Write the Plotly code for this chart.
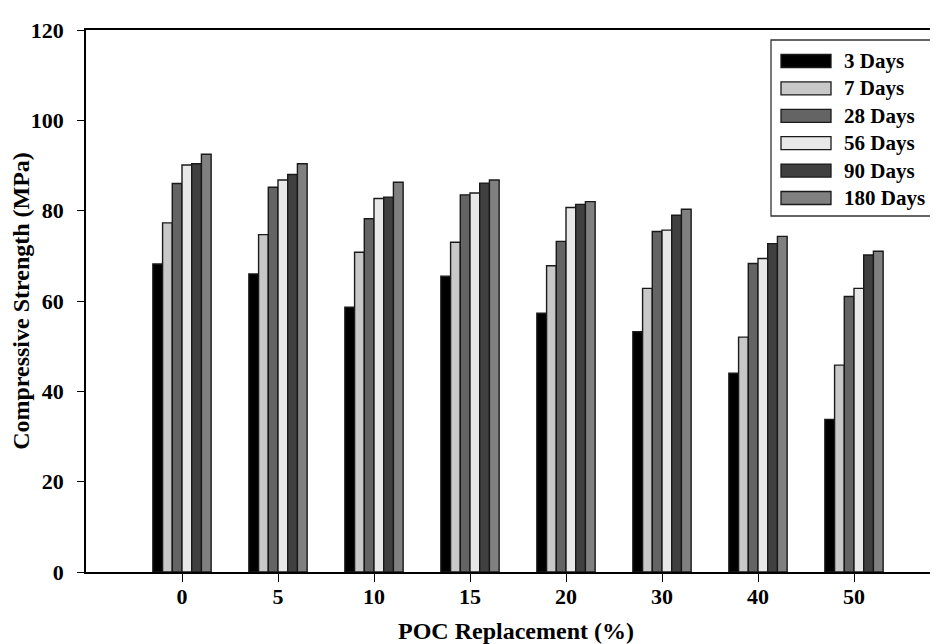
import plotly.graph_objects as go

categories = ["0", "5", "10", "15", "20", "30", "40", "50"]
series_names = ["3 Days", "7 Days", "28 Days", "56 Days", "90 Days", "180 Days"]
d3 = [68.2, 66.0, 58.6, 65.5, 57.3, 53.2, 44.0, 33.8]
d7 = [77.3, 74.7, 70.8, 73.0, 67.8, 62.8, 52.0, 45.8]
d28 = [86.0, 85.2, 78.2, 83.5, 73.2, 75.4, 68.3, 61.0]
d56 = [90.1, 86.8, 82.7, 83.9, 80.7, 75.7, 69.4, 62.8]
d90 = [90.4, 88.0, 83.0, 86.1, 81.4, 79.0, 72.7, 70.2]
d180 = [92.5, 90.4, 86.3, 86.8, 82.0, 80.3, 74.3, 71.0]
y_ticks = [0, 20, 40, 60, 80, 100, 120]

series_values = [d3, d7, d28, d56, d90, d180]
colors = ["#000000", "#c8c8c8", "#646464", "#e8e8e8", "#404040", "#808080"]

FONT = "Liberation Serif"
W, H = 938, 644
ML, MT, MB = 78, 22, 80
PW = W - ML
PH = H - MT - MB

fig = go.Figure()
for name, vals, col in zip(series_names, series_values, colors):
    fig.add_trace(go.Bar(
        x=categories, y=vals, name=name,
        marker=dict(color=col, line=dict(color="#1a1a1a", width=1.4)),
        showlegend=False,
    ))

# custom legend (paper coordinates from pixel layout)
def px_x(p):
    return (p - ML) / PW

def px_y(p):
    return (H - MB - p) / PH

shapes = [dict(type="rect", xref="paper", yref="paper",
               x0=px_x(763), x1=px_x(934), y0=px_y(208), y1=px_y(32),
               line=dict(color="#333333", width=1.3), fillcolor="white", layer="above")]
annotations = []
for i, (name, col) in enumerate(zip(series_names, colors)):
    cy = 53 + 27.4 * i
    shapes.append(dict(type="rect", xref="paper", yref="paper",
                       x0=px_x(773), x1=px_x(823), y0=px_y(cy + 6.5), y1=px_y(cy - 6.5),
                       line=dict(color="#1a1a1a", width=1.3), fillcolor=col, layer="above"))
    annotations.append(dict(xref="paper", yref="paper", x=px_x(834), y=px_y(cy),
                            text=name, showarrow=False, xanchor="left", yanchor="middle",
                            font=dict(family=FONT, size=21, color="black", weight="bold")))

fig.update_layout(
    width=W, height=H,
    margin=dict(l=ML, r=0, t=MT, b=MB),
    paper_bgcolor="white", plot_bgcolor="white",
    barmode="group", bargap=0.393, bargroupgap=0,
    shapes=shapes, annotations=annotations,
    font=dict(family=FONT, color="black"),
)
fig.update_xaxes(
    type="category", range=[-1, -1 + PW / 96.0],
    showline=True, linecolor="black", linewidth=1.5, mirror=True,
    ticks="outside", ticklen=8, tickwidth=1.2, tickcolor="black",
    showgrid=False, zeroline=False, ticklabelstandoff=-4,
    tickfont=dict(family=FONT, size=22, color="black", weight="bold"),
    title=dict(text="POC Replacement (%)", standoff=14,
               font=dict(family=FONT, size=24, color="black", weight="bold")),
)
fig.update_yaxes(
    range=[0, 120], tickvals=y_ticks,
    showline=True, linecolor="black", linewidth=1.5, mirror=False,
    ticks="outside", ticklen=7, tickwidth=1.2, tickcolor="black",
    showgrid=False, zeroline=False, ticklabelstandoff=9,
    tickfont=dict(family=FONT, size=22, color="black", weight="bold"),
    title=dict(text="Compressive Strength (MPa)", standoff=0,
               font=dict(family=FONT, size=24, color="black", weight="bold")),
)

fig.write_html("out.html")
